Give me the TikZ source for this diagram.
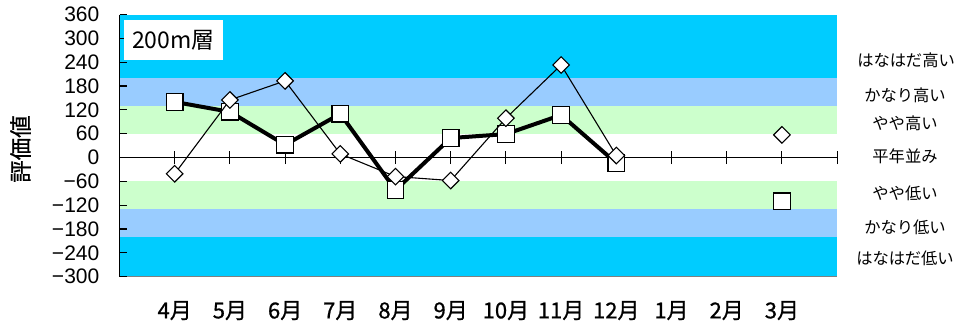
\documentclass[tikz,border=0pt]{standalone}
\usepackage{fontspec}
\setmainfont{Liberation Sans}
\newfontfamily\jp{Noto Sans CJK JP}
\newfontfamily\jpm{Noto Sans CJK JP}[FakeBold=0.8]
\usetikzlibrary{shapes.geometric}
\definecolor{cyanband}{HTML}{00CCFF}
\definecolor{blueband}{HTML}{99CCFF}
\definecolor{greenband}{HTML}{CCFFCC}
\begin{document}
\begin{tikzpicture}[x=1pt,y=1pt,
  sqmark/.style={rectangle, draw, fill=white, line width=1.2pt, minimum size=16.5pt, inner sep=0pt},
  dmmark/.style={diamond, draw, fill=white, line width=1.1pt, minimum width=17pt, minimum height=17pt, inner sep=0pt},
  thickline/.style={line width=4pt, line join=miter},
  thinline/.style={line width=1.1pt},
  ylab/.style={anchor=east, inner sep=0pt, font=\fontsize{21}{24}\selectfont},
  mlab/.style={inner sep=0pt, font=\jpm\fontsize{22}{24}\selectfont},
  rlab/.style={inner sep=0pt, font=\jp\fontsize{16.3}{19}\selectfont}]
\useasboundingbox (0,0) rectangle (960,322);
\begin{scope}[shift={(119.5,164.5)}, x=55.2pt, y=0.397pt]
  % bands
  \fill[cyanband] (0,200) rectangle (13,360);
  \fill[blueband] (0,130) rectangle (13,200);
  \fill[greenband] (0,60) rectangle (13,130);
  \fill[greenband] (0,-60) rectangle (13,-130);
  \fill[blueband] (0,-130) rectangle (13,-200);
  \fill[cyanband] (0,-200) rectangle (13,-300);
  \draw[gray, line width=1pt] (0,-300) -- (13,-300);
  % left axis
  \draw[line width=1.3pt] (0,-300) -- (0,360);
  \foreach \v in {-300,-240,...,360} \draw[line width=1.2pt] (0,\v) -- ++(7pt,0);
  % zero axis
  \draw[line width=1.2pt] (0,0) -- (13,0);
  \foreach \k in {1,...,13} \draw[line width=1.1pt] (\k,0) ++(0,-6.5pt) -- ++(0,13pt);
  % y labels
  \foreach \v/\t in {360/360,300/300,240/240,180/180,120/120,60/60,0/0,-60/−60,-120/−120,-180/−180,-240/−240,-300/−300}
    \node[ylab] (yl\v) at ([xshift=-20pt]0,\v) {\t};
  % month labels
  \foreach \k/\m in {1/4,2/5,3/6,4/7,5/8,6/9,7/10,8/11,9/12,10/1,11/2,12/3}
    \node[mlab] (ml\k) at ([yshift=-34pt]\k,-300) {\m 月};
  % right labels
  \node[rlab] (r1) at (14.25,246) {はなはだ高い};
  \node[rlab] (r2) at (14.23,156) {かなり高い};
  \node[rlab] (r3) at (14.23,86) {やや高い};
  \node[rlab] (r4) at (14.23,2) {平年並み};
  \node[rlab] (r5) at (14.23,-89) {やや低い};
  \node[rlab] (r6) at (14.23,-177) {かなり低い};
  \node[rlab] (r7) at (14.23,-254) {はなはだ低い};
  % data positions
  \foreach \k/\v in {1/140,2/115,3/32,4/110,5/-82,6/49,7/59,8/107,9/-14,12/-110}
    \coordinate (S\k) at (\k,\v);
  \foreach \k/\v in {1/-41,2/145,3/193,4/9,5/-48,6/-58,7/99,8/233,9/5,12/57}
    \coordinate (D\k) at (\k,\v);
  % square series
  \draw[thickline] (S1) -- (S2) -- (S3) -- (S4) -- (S5) -- (S6) -- (S7) -- (S8) -- (S9);
  \foreach \k in {1,...,9,12} \node[sqmark] (s\k) at (S\k) {};
  % diamond series
  \draw[thinline] (D1) -- (D2) -- (D3) -- (D4) -- (D5) -- (D6) -- (D7) -- (D8) -- (D9);
  \foreach \k in {1,...,9,12} \node[dmmark] (d\k) at (D\k) {};
\end{scope}
% title box
\node[fill=white, minimum width=98.7pt, minimum height=40pt, inner sep=0pt,
      font=\jp\fontsize{23}{26}\selectfont] (title) at (173.3,282) {200m層};
% axis title
\node[rotate=90, inner sep=0pt, font=\jpm\fontsize{22.5}{26}\selectfont] (ytitle) at (20.5,173) {評価値};
\end{tikzpicture}
\end{document}
